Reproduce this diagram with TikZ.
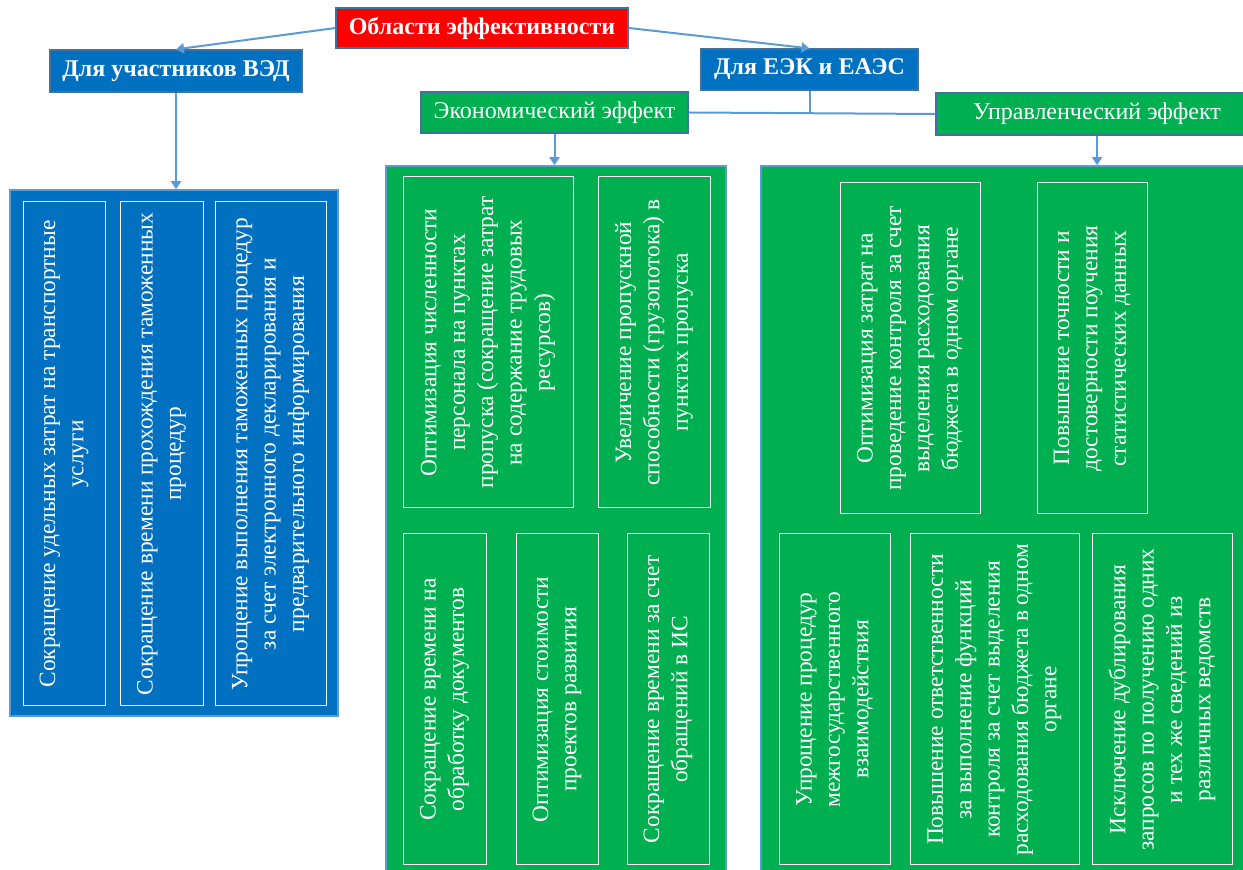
\documentclass[tikz,border=0pt]{standalone}
\usepackage{fontspec}
\setmainfont{Liberation Serif}
\usetikzlibrary{arrows.meta}
\definecolor{oblue}{HTML}{0070C0}
\definecolor{ogreen}{HTML}{00B050}
\definecolor{ored}{HTML}{FF0000}
\definecolor{olink}{HTML}{5B9BD5}
\definecolor{oedge}{HTML}{41719C}

\begin{document}
\begin{tikzpicture}[x=0.5pt, y=-0.5pt,
  hdr/.style={draw=oedge, line width=0.6pt, text=white, inner sep=0pt, font=\fontsize{12}{14}\selectfont},
  bigbox/.style={draw=olink, line width=0.8pt, inner sep=0pt},
  cell/.style={draw=white, line width=0.5pt, rotate=90, text=white, align=center, inner sep=0pt, font=\fontsize{11.7}{14.2}\selectfont},
  link/.style={draw=olink, line width=1pt},
  arr/.style={link, -{Triangle[width=5pt,length=4pt]}}]
\useasboundingbox (0,0) rectangle (1243,870);

% panels
\node[bigbox, fill=oblue, minimum width=164pt, minimum height=263pt] (vedbox) at (174,453) {};
\node[bigbox, fill=ogreen, minimum width=170pt, minimum height=357pt] (econbox) at (556,523) {};
\node[bigbox, fill=ogreen, minimum width=246pt, minimum height=357pt] (uprbox) at (1007,523) {};

% cells, participants
\node[cell, minimum width=252pt, minimum height=41pt] (v1) at (64,454) {Сокращение удельных затрат на транспортные\\услуги};
\node[cell, minimum width=252pt, minimum height=41.5pt] (v2) at (161.5,454) {Сокращение времени прохождения таможенных\\процедур};
\node[cell, minimum width=252pt, minimum height=55.5pt] (v3) at (270.5,454) {Упрощение выполнения таможенных процедур\\за счет электронного декларирования и\\предварительного информирования};

% cells, economic
\node[cell, minimum width=165.5pt, minimum height=85pt] (e1) at (488,342.5) {Оптимизация численности\\персонала на пунктах\\пропуска (сокращение затрат\\на содержание трудовых\\ресурсов)};
\node[cell, minimum width=165.5pt, minimum height=56pt] (e2) at (654,342.5) {Увеличение пропускной\\способности (грузопотока) в\\пунктах пропуска};
\node[cell, minimum width=165.5pt, minimum height=41.5pt] (e3) at (444.5,699.5) {Сокращение времени на\\обработку документов};
\node[cell, minimum width=165.5pt, minimum height=41pt] (e4) at (557,699.5) {Оптимизация стоимости\\проектов развития};
\node[cell, minimum width=165.5pt, minimum height=41pt] (e5) at (668,699.5) {Сокращение времени за счет\\обращений в ИС};

% cells, management
\node[cell, minimum width=165.5pt, minimum height=70pt] (u1) at (910,348.5) {Оптимизация затрат на\\проведение контроля за счет\\выделения расходования\\бюджета в одном органе};
\node[cell, minimum width=165.5pt, minimum height=55pt] (u2) at (1092,348.5) {Повышение точности и\\достоверности поучения\\статистических данных};
\node[cell, minimum width=165.5pt, minimum height=55.5pt] (u3) at (834.5,699.5) {Упрощение процедур\\межгосударственного\\взаимодействия};
\node[cell, minimum width=165.5pt, minimum height=84.5pt] (u4) at (994.5,699.5) {Повышение ответственности\\за выполнение функций\\контроля за счет выделения\\расходования бюджета в одном\\органе};
\node[cell, minimum width=165.5pt, minimum height=70pt] (u5) at (1162,699.5) {Исключение дублирования\\запросов по получению одних\\и тех же сведений из\\различных ведомств};

% headings
\node[hdr, fill=ored, font=\fontsize{12}{14}\selectfont\bfseries, minimum width=146pt, minimum height=20pt] (root) at (482,28) {Области эффективности};
\node[hdr, fill=oblue, font=\fontsize{12}{14}\selectfont\bfseries, minimum width=126pt, minimum height=21pt] (ved) at (176,71) {Для участников ВЭД};
\node[hdr, fill=oblue, font=\fontsize{12}{14}\selectfont\bfseries, minimum width=108.5pt, minimum height=20.5pt] (eek) at (809.5,69.5) {Для ЕЭК и ЕАЭС};
\node[hdr, fill=ogreen, minimum width=133.5pt, minimum height=20.5pt] (econ) at (554.5,112.5) {Экономический эффект};
\node[hdr, fill=ogreen, minimum width=161pt, minimum height=21pt] (upr) at (1097,114) {Управленческий эффект};

% links
\draw[arr] (root.west) -- (ved.north);
\draw[arr] (root.east) -- (eek.north);
\draw[arr] (ved.south) -- (ved.south |- vedbox.north);
\draw[link] (econ.east) -- (upr.west);
\draw[link] (eek.south) -- (eek.south |- econ.east);
\draw[arr] (econ.south) -- (econ.south |- econbox.north);
\draw[arr] (upr.south) -- (upr.south |- uprbox.north);
\end{tikzpicture}
\end{document}
